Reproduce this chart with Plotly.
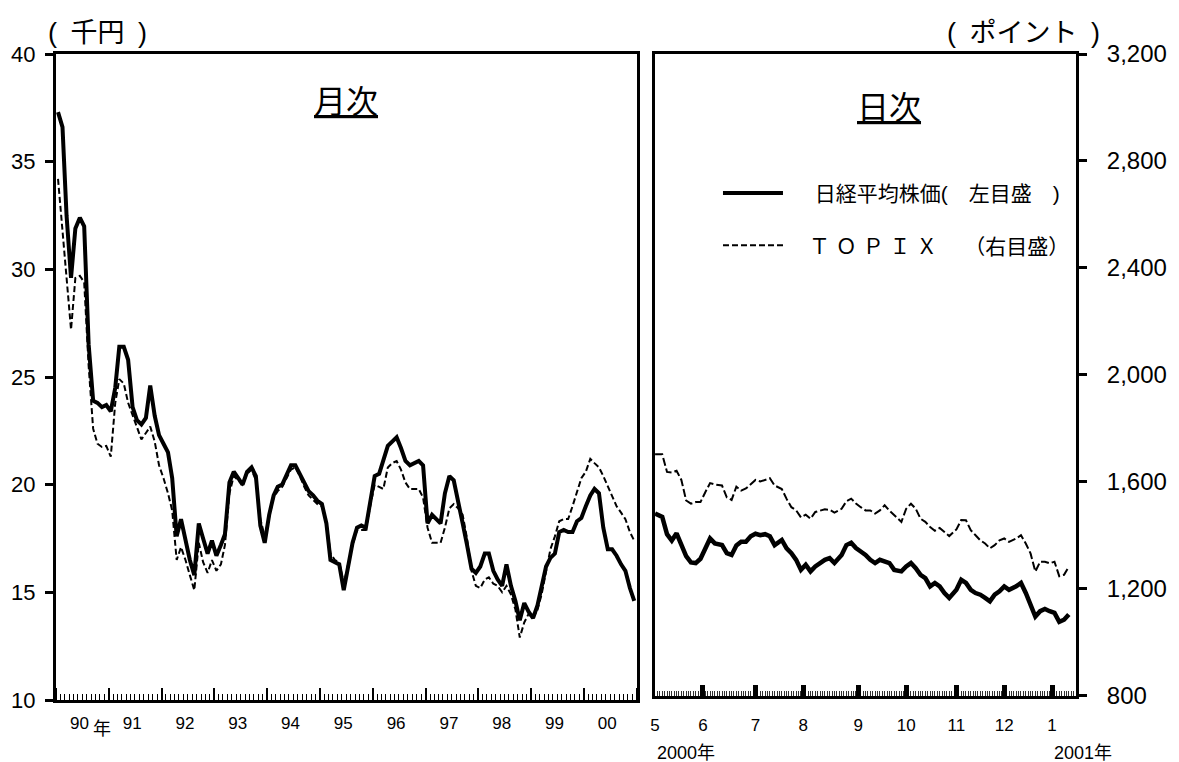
import pandas as pd
import plotly.graph_objects as go

# ---------------- monthly data (Jan 1990 - Dec 2000) ----------------
month_dates = pd.date_range("1990-01-01", "2000-12-01", freq="MS") + pd.Timedelta(days=14)

# Nikkei 225 monthly (thousand yen, left scale)
nikkei_monthly = [
    37.3, 36.6, 32.5, 29.6, 31.9, 32.4, 32.0, 26.5, 23.9, 23.8, 23.6, 23.7,   # 1990
    23.4, 24.5, 26.4, 26.4, 25.8, 23.6, 23.0, 22.8, 23.1, 24.6, 23.2, 22.3,   # 1991
    21.9, 21.5, 20.3, 17.6, 18.4, 17.4, 16.5, 15.8, 18.2, 17.5, 16.8, 17.4,   # 1992
    16.7, 17.2, 17.7, 20.1, 20.6, 20.3, 20.0, 20.6, 20.8, 20.4, 18.1, 17.3,   # 1993
    18.6, 19.5, 19.9, 20.0, 20.5, 20.9, 20.9, 20.5, 20.0, 19.7, 19.5, 19.25,  # 1994
    19.1, 18.2, 16.5, 16.4, 16.3, 15.1, 16.2, 17.3, 18.0, 18.1, 18.0, 19.3,   # 1995
    20.4, 20.5, 21.2, 21.8, 22.0, 22.2, 21.7, 21.1, 20.9, 21.0, 21.1, 20.9,   # 1996
    18.2, 18.6, 18.4, 18.2, 19.6, 20.4, 20.2, 19.3, 18.2, 17.2, 16.1, 15.9,   # 1997
    16.2, 16.8, 16.8, 16.0, 15.6, 15.3, 16.3, 15.3, 14.6, 13.7, 14.5, 14.1,   # 1998
    13.8, 14.4, 15.3, 16.2, 16.6, 16.8, 17.8, 17.9, 17.8, 17.8, 18.3, 18.45,  # 1999
    19.0, 19.5, 19.8, 19.6, 18.0, 17.0, 17.0, 16.7, 16.3, 16.0, 15.2, 14.6,   # 2000
]

# TOPIX monthly (points, right scale)
topix_monthly = [
    2736, 2552, 2384, 2176, 2368, 2376, 2352, 2040, 1808, 1752, 1740, 1744,   # 1990
    1704, 1904, 1992, 1976, 1904, 1856, 1808, 1768, 1792, 1816, 1760, 1672,   # 1991
    1624, 1568, 1504, 1320, 1368, 1320, 1264, 1208, 1384, 1312, 1272, 1320,   # 1992
    1280, 1304, 1376, 1568, 1632, 1616, 1600, 1640, 1656, 1616, 1472, 1408,   # 1993
    1480, 1552, 1576, 1592, 1624, 1656, 1664, 1632, 1592, 1560, 1544, 1528,   # 1994
    1520, 1464, 1344, 1320, 1312, 1232, 1304, 1376, 1432, 1432, 1432, 1520,   # 1995
    1600, 1592, 1584, 1664, 1680, 1688, 1656, 1608, 1584, 1584, 1584, 1552,   # 1996
    1440, 1384, 1384, 1384, 1440, 1512, 1528, 1512, 1488, 1400, 1280, 1224,   # 1997
    1216, 1248, 1256, 1232, 1224, 1200, 1224, 1192, 1136, 1032, 1088, 1120,   # 1998
    1104, 1136, 1192, 1280, 1360, 1408, 1464, 1472, 1472, 1520, 1576, 1624,   # 1999
    1648, 1696, 1680, 1664, 1632, 1592, 1560, 1520, 1496, 1472, 1424, 1392,   # 2000
]

# ---------------- daily data (May 2000 - Jan 2001) ----------------
daily_dates = [
    "2000-05-01", "2000-05-09", "2000-05-11", "2000-05-15", "2000-05-17", "2000-05-19",
    "2000-05-23", "2000-05-25", "2000-05-29", "2000-05-31", "2000-06-02", "2000-06-06",
    "2000-06-08", "2000-06-13", "2000-06-15", "2000-06-19", "2000-06-21", "2000-06-23",
    "2000-06-27", "2000-06-29", "2000-07-03", "2000-07-05", "2000-07-07", "2000-07-11",
    "2000-07-13", "2000-07-18", "2000-07-21", "2000-07-25", "2000-07-27", "2000-07-31",
    "2000-08-02", "2000-08-04", "2000-08-08", "2000-08-10", "2000-08-14", "2000-08-16",
    "2000-08-18", "2000-08-23", "2000-08-25", "2000-08-29", "2000-08-31", "2000-09-04",
    "2000-09-06", "2000-09-08", "2000-09-12", "2000-09-14", "2000-09-19", "2000-09-21",
    "2000-09-25", "2000-09-28", "2000-10-02", "2000-10-04", "2000-10-06", "2000-10-11",
    "2000-10-13", "2000-10-17", "2000-10-19", "2000-10-23", "2000-10-25", "2000-10-27",
    "2000-11-01", "2000-11-06", "2000-11-08", "2000-11-10", "2000-11-14", "2000-11-16",
    "2000-11-20", "2000-11-22", "2000-11-27", "2000-11-29", "2000-12-01", "2000-12-05",
    "2000-12-08", "2000-12-12", "2000-12-14", "2000-12-18", "2000-12-20", "2000-12-22",
    "2000-12-26", "2000-12-28", "2001-01-05", "2001-01-10", "2001-01-12", "2001-01-16",
]

nikkei_daily = [
    18.52, 18.36, 17.55, 17.25, 17.59, 17.05, 16.53, 16.23, 16.20, 16.40, 16.85, 17.35,
    17.12, 17.04, 16.66, 16.58, 17.02, 17.20, 17.20, 17.45, 17.57, 17.50, 17.55, 17.45,
    17.04, 17.28, 16.89, 16.66, 16.35, 15.88, 16.12, 15.81, 16.04, 16.20, 16.35, 16.43,
    16.20, 16.58, 17.04, 17.15, 16.90, 16.74, 16.58, 16.35, 16.20, 16.35, 16.30, 16.20,
    15.88, 15.81, 16.04, 16.20, 15.96, 15.65, 15.50, 15.11, 15.27, 15.11, 14.80, 14.57,
    14.95, 15.42, 15.27, 14.95, 14.80, 14.72, 14.57, 14.41, 14.72, 14.88, 15.11, 14.95,
    15.11, 15.27, 14.80, 14.18, 13.70, 13.95, 14.05, 13.95, 13.87, 13.45, 13.55, 13.80,
]

topix_daily = [
    1703, 1703, 1637, 1635, 1641, 1607, 1530, 1518, 1524, 1524, 1561, 1595,
    1590, 1586, 1542, 1532, 1582, 1567, 1575, 1592, 1607, 1601, 1607, 1613,
    1586, 1573, 1536, 1505, 1493, 1467, 1477, 1462, 1487, 1493, 1497, 1495,
    1485, 1499, 1527, 1537, 1519, 1505, 1493, 1493, 1481, 1493, 1512, 1492,
    1475, 1450, 1499, 1518, 1499, 1462, 1450, 1431, 1417, 1427, 1412, 1397,
    1422, 1457, 1456, 1419, 1400, 1381, 1369, 1351, 1363, 1381, 1388, 1375,
    1388, 1400, 1369, 1332, 1264, 1301, 1301, 1295, 1301, 1247, 1252, 1283,
]

# Tokyo market holidays (non-trading weekdays) in the daily window
market_holidays = [
    "2000-05-03", "2000-05-04", "2000-05-05", "2000-07-20", "2000-09-15",
    "2000-10-09", "2000-11-03", "2000-11-23", "2000-12-29",
    "2001-01-01", "2001-01-02", "2001-01-03", "2001-01-08",
]

left_ticks = [10, 15, 20, 25, 30, 35, 40]
right_ticks = [800, 1200, 1600, 2000, 2400, 2800, 3200]

legend_nikkei = "\u3000\u00a0日経平均株価(　左目盛　)"
legend_topix = "\u3000Ｔ Ｏ Ｐ Ｉ Ｘ　 （右目盛）"

FONT = "Liberation Sans, Arial, Noto Sans CJK JP, sans-serif"
BLACK = "black"

fig = go.Figure()

fig.add_trace(go.Scatter(
    x=month_dates, y=nikkei_monthly, xaxis="x", yaxis="y", mode="lines",
    line=dict(color=BLACK, width=4), name=legend_nikkei, legendgroup="n",
))
fig.add_trace(go.Scatter(
    x=month_dates, y=topix_monthly, xaxis="x", yaxis="y3", mode="lines",
    line=dict(color=BLACK, width=2, dash="6px,3px"), name=legend_topix, legendgroup="t",
))
fig.add_trace(go.Scatter(
    x=daily_dates, y=nikkei_daily, xaxis="x2", yaxis="y4", mode="lines",
    line=dict(color=BLACK, width=4.5), showlegend=False,
))
fig.add_trace(go.Scatter(
    x=daily_dates, y=topix_daily, xaxis="x2", yaxis="y2", mode="lines",
    line=dict(color=BLACK, width=2, dash="8px,3px"), showlegend=False,
))

axis_common = dict(showline=True, linecolor=BLACK, linewidth=3, mirror=True,
                   showgrid=False, zeroline=False, tickcolor=BLACK, automargin=False)

fig.update_layout(
    width=1171, height=754,
    margin=dict(l=48, r=103, t=46, b=62, autoexpand=False),
    paper_bgcolor="white", plot_bgcolor="white",
    font=dict(family=FONT, color=BLACK),
    xaxis=dict(
        domain=[0, 0.5693], anchor="y", type="date",
        range=["1990-01-01", "2001-01-01"],
        ticks="inside", ticklen=12, tickwidth=2,
        dtick="M12", tick0="1990-01-01", tickformat="%y", ticklabelmode="period",
        tickfont=dict(size=17, family=FONT), ticklabelstandoff=6, ticklabelshift=-3,
        minor=dict(ticks="inside", dtick="M1", ticklen=6, tickwidth=1,
                   tickcolor=BLACK, showgrid=False),
        **axis_common,
    ),
    yaxis=dict(
        domain=[0, 1], anchor="x", range=[10, 40], tickvals=left_ticks,
        ticks="outside", ticklen=8, tickwidth=2.5,
        tickfont=dict(size=22, family=FONT), ticklabelstandoff=5,
        **axis_common,
    ),
    yaxis3=dict(overlaying="y", anchor="x", range=[800, 3200], visible=False),
    xaxis2=dict(
        domain=[0.5873, 1], anchor="y2", type="date",
        range=["2000-05-01", "2001-01-19"],
        rangebreaks=[dict(bounds=["sat", "mon"]), dict(values=market_holidays)],
        ticks="inside", ticklen=11, tickwidth=4.5,
        dtick="M1", tick0="2000-05-01", tickformat="%-m",
        tickfont=dict(size=17, family=FONT), ticklabelstandoff=12,
        minor=dict(ticks="inside", dtick=86400000, ticklen=5, tickwidth=1,
                   tickcolor="#333333", showgrid=False),
        **axis_common,
    ),
    yaxis2=dict(
        domain=[0.0067, 1], anchor="x2", side="right", range=[800, 3200],
        tickvals=right_ticks, tickformat=",d",
        ticks="outside", ticklen=8, tickwidth=2.5,
        tickfont=dict(size=24, family=FONT), ticklabelstandoff=15,
        **axis_common,
    ),
    yaxis4=dict(overlaying="y2", anchor="x2", range=[10, 40], visible=False),
    showlegend=True,
    legend=dict(
        x=0.649, y=0.816, xanchor="left", yanchor="top",
        font=dict(size=21, family=FONT), bgcolor="rgba(0,0,0,0)",
        tracegroupgap=22, itemwidth=60, traceorder="grouped",
    ),
)

annotations = [
    dict(text="(\u2002千円\u2002)", x=0.041, y=1.0325, font=dict(size=27)),
    dict(text="(\u2002ポイント\u2002)", x=0.949, y=1.0325, font=dict(size=27)),
    dict(text="<u>月次</u>", x=0.2843, y=0.9257, font=dict(size=32)),
    dict(text="<u>日次</u>", x=0.8167, y=0.9164, font=dict(size=32)),
]
for a in annotations:
    a.update(xref="paper", yref="paper", xanchor="center", yanchor="middle", showarrow=False)

annotations += [
    dict(text="年", x="1990-11-15", y=-0.0449, xref="x", yref="paper",
         xanchor="center", yanchor="middle", showarrow=False, font=dict(size=18)),
    dict(text="2000年", x="2000-05-01", y=-0.082, xref="x2", yref="paper",
         xanchor="left", yanchor="middle", showarrow=False, font=dict(size=18)),
    dict(text="2001年", x="2001-01-04", y=-0.082, xref="x2", yref="paper",
         xanchor="left", yanchor="middle", showarrow=False, font=dict(size=18)),
]
fig.update_layout(annotations=annotations)

fig.write_html("out.html")
